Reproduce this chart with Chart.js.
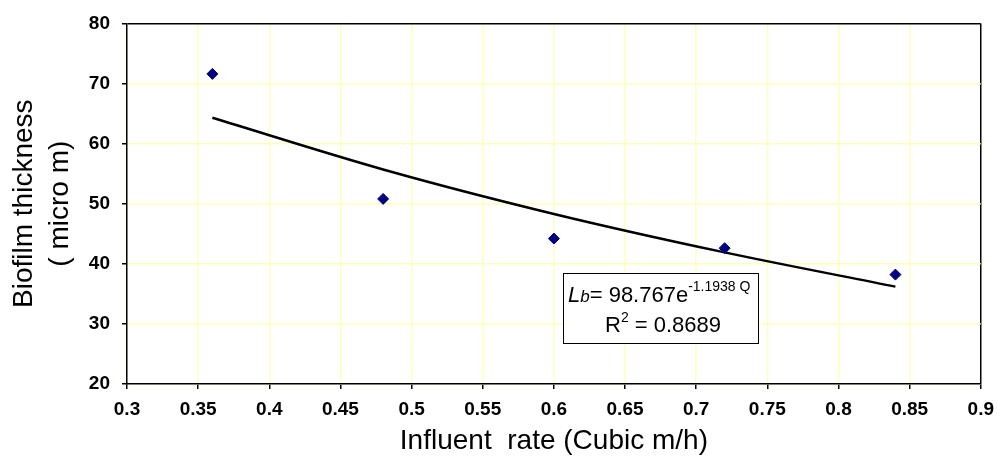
<!DOCTYPE html>
<html>
<head>
<meta charset="utf-8">
<script src="https://cdn.jsdelivr.net/npm/chart.js@4.4.1/dist/chart.umd.min.js"></script>
<style>
  html, body { margin: 0; padding: 0; background: #fff; }
  #wrap { width: 1003px; height: 462px; }
</style>
</head>
<body>
<div id="wrap"><canvas id="myChart" width="1003" height="462"></canvas></div>
<script>
'use strict';

//---------------------- data -------------------
let influentRate = [0.36, 0.48, 0.6, 0.72, 0.84];
let biofilmThickness = [71.6, 50.8, 44.2, 42.6, 38.2];

// trendline at the same rates
let trendRate = [0.36, 0.48, 0.6, 0.72, 0.84];
let trendThickness = [64.3, 55.7, 48.3, 41.9, 36.2];

let xTickMin = 0.3;
let xTickMax = 0.9;
let xTickStep = 0.05;
let yTickMin = 20;
let yTickMax = 80;
let yTickStep = 10;

let fontName = '"Liberation Sans", Arial, sans-serif';
let gridYellow = '#ffffbc';

function toPoints(xs, ys) {
  let pts = [];
  for (let i = 0; i < xs.length; i++) {
    pts.push({ x: xs[i], y: ys[i] });
  }
  return pts;
}

// draws a list of text runs one after the other
function drawRuns(ctx, x, y, runs) {
  for (let i = 0; i < runs.length; i++) {
    let r = runs[i];
    ctx.font = r.font;
    ctx.fillText(r.text, x, y + (r.dy || 0));
    x += ctx.measureText(r.text).width;
  }
}

// the last grid line on each axis is the plot frame
function gridColor(max) {
  return function (c) {
    if (c.tick && Math.abs(c.tick.value - max) < 1e-9) {
      return '#000000';
    }
    return gridYellow;
  };
}

let equationBox = {
  id: 'equationBox',
  afterDatasetsDraw(chart) {
    let ctx = chart.ctx;
    ctx.save();
    ctx.fillStyle = '#ffffff';
    ctx.fillRect(563, 273, 195, 70);
    ctx.strokeStyle = '#000000';
    ctx.lineWidth = 1;
    ctx.strokeRect(563.5, 273.5, 195, 70);
    ctx.fillStyle = '#000000';
    ctx.textBaseline = 'alphabetic';
    ctx.textAlign = 'left';
    drawRuns(ctx, 568, 302, [
      { text: 'L', font: 'italic 22px ' + fontName },
      { text: 'b', font: 'italic 17px ' + fontName },
      { text: '= 98.767e', font: '22px ' + fontName },
      { text: '-1.1938 Q', font: '14px ' + fontName, dy: -11 }
    ]);
    drawRuns(ctx, 605, 332, [
      { text: 'R', font: '22px ' + fontName },
      { text: '2', font: '14px ' + fontName, dy: -10 },
      { text: ' = 0.8689', font: '22px ' + fontName }
    ]);
    ctx.restore();
  }
};

let ctx = document.getElementById('myChart').getContext('2d');
let myChart = new Chart(ctx, {
  type: 'scatter',
  data: {
    datasets: [
      {
        label: 'Biofilm thickness',
        data: toPoints(influentRate, biofilmThickness),
        pointStyle: 'rectRot',
        pointRadius: 5.5,
        backgroundColor: '#000080',
        borderColor: '#000080',
        borderWidth: 1,
        showLine: false,
        order: 1
      },
      {
        label: 'Trend',
        data: toPoints(trendRate, trendThickness),
        showLine: true,
        pointRadius: 0,
        borderColor: '#000000',
        borderWidth: 2.5,
        cubicInterpolationMode: 'monotone',
        fill: false,
        order: 2
      }
    ]
  },
  options: {
    responsive: false,
    animation: false,
    layout: { padding: { left: 0, right: 20, top: 21, bottom: 0 } },
    plugins: {
      legend: { display: false },
      tooltip: { enabled: false }
    },
    scales: {
      x: {
        type: 'linear',
        min: xTickMin,
        max: xTickMax,
        afterFit(scale) { scale.height = 78; },
        ticks: {
          stepSize: xTickStep,
          color: '#000000',
          padding: 9,
          maxRotation: 0,
          autoSkip: false,
          font: { family: fontName, size: 19, weight: 'bold' },
          callback: function (v) { return String(Number(v.toFixed(2))); }
        },
        grid: { color: gridColor(xTickMax), tickColor: '#000000', tickLength: 5, lineWidth: 1.5 },
        border: { display: true, color: '#000000', width: 1.5 },
        title: {
          display: true,
          text: 'Influent  rate (Cubic m/h)',
          color: '#000000',
          font: { family: fontName, size: 28 },
          padding: { top: 0, bottom: 4 }
        }
      },
      y: {
        type: 'linear',
        min: yTickMin,
        max: yTickMax,
        afterFit(scale) { scale.width = 127; },
        ticks: {
          stepSize: yTickStep,
          color: '#000000',
          padding: 12,
          font: { family: fontName, size: 19, weight: 'bold' }
        },
        grid: { color: gridColor(yTickMax), tickColor: '#000000', tickLength: 5, lineWidth: 1.5 },
        border: { display: true, color: '#000000', width: 1.5 },
        title: {
          display: true,
          text: ['Biofilm thickness', '( micro m)'],
          color: '#000000',
          font: { family: fontName, size: 28, lineHeight: 1.3 },
          padding: { top: 6, bottom: 0 }
        }
      }
    }
  },
  plugins: [equationBox]
});
</script>
</body>
</html>
